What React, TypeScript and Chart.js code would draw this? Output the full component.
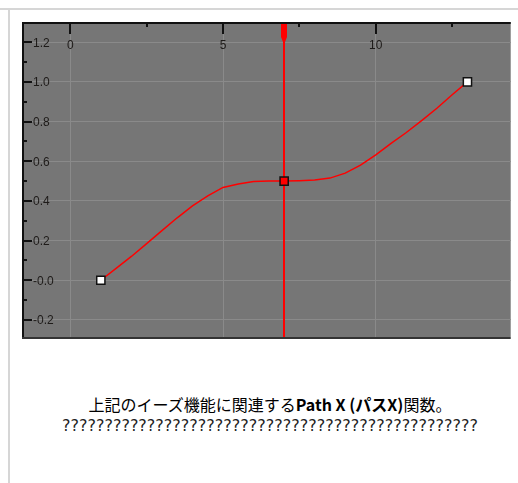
import React, { useEffect, useRef } from "react";
import { Chart, registerables } from "chart.js";

Chart.register(...registerables);

// ---- data ----
const curveX = [1, 1.5, 2, 2.5, 3, 3.5, 4, 4.5, 5, 5.5, 6, 6.5, 7, 7.5, 8, 8.5, 9, 9.5, 10, 10.5, 11, 11.5, 12, 12.5, 13];
const curveY = [0, 0.06, 0.12, 0.185, 0.25, 0.315, 0.375, 0.425, 0.468, 0.485, 0.498, 0.5, 0.5, 0.502, 0.505, 0.515, 0.54, 0.58, 0.632, 0.69, 0.745, 0.805, 0.867, 0.935, 1.0];
const keyX = [1, 7, 13];
const keyY = [0, 0.5, 1.0];
const keyFill = ["#ffffff", "#ff0000", "#ffffff"];
const cursorX = 7;

const xTickValues = [0, 5, 10];
const xTickLabels = ["0", "5", "10"];
const xMinorTicks = [2.5, 7.5, 12.5];
const yTickValues = [1.2, 1.0, 0.8, 0.6, 0.4, 0.2, 0.0, -0.2];
const yTickLabels = ["1.2", "1.0", "0.8", "0.6", "0.4", "0.2", "-0.0", "-0.2"];
const yMinorTicks = [1.1, 0.9, 0.7, 0.5, 0.3, 0.1, -0.1];

const xRange = [-1.58, 14.416];
const yRange = [-0.286, 1.302];

const caption1a = "上記のイーズ機能に関連する";
const caption1b = "Path X (パスX)";
const caption1c = "関数。";
const caption2 = "?".repeat(49);

const plotPlugin = {
  id: "plotDecor",
  beforeDraw(chart: any) {
    const { ctx, chartArea: a } = chart;
    ctx.save();
    ctx.fillStyle = "#767676";
    ctx.fillRect(a.left, a.top, a.right - a.left, a.bottom - a.top);
    ctx.restore();
  },
  beforeDatasetsDraw(chart: any) {
    const { ctx, chartArea: a } = chart;
    const xs = chart.scales.x;
    const px = Math.round(xs.getPixelForValue(cursorX));
    ctx.save();
    ctx.fillStyle = "#ff0000";
    ctx.fillRect(px - 1, a.top, 2, a.bottom - a.top);
    ctx.beginPath();
    ctx.moveTo(px - 3, a.top);
    ctx.lineTo(px + 3, a.top);
    ctx.lineTo(px + 3, a.top + 15);
    ctx.lineTo(px + 1, a.top + 20);
    ctx.lineTo(px - 1, a.top + 20);
    ctx.lineTo(px - 3, a.top + 15);
    ctx.closePath();
    ctx.fill();
    ctx.restore();
  },
  afterDraw(chart: any) {
    const { ctx, chartArea: a } = chart;
    const xs = chart.scales.x;
    const ys = chart.scales.y;
    ctx.save();
    // axes lines
    ctx.fillStyle = "#111111";
    ctx.fillRect(a.left, a.top, a.right - a.left, 2);
    ctx.fillRect(a.left, a.top, 2, a.bottom - a.top);
    ctx.fillStyle = "#333333";
    ctx.fillRect(a.left, a.bottom, a.right - a.left, 2);
    // x ticks
    ctx.fillStyle = "#111111";
    xTickValues.forEach((v) => {
      const p = Math.round(xs.getPixelForValue(v));
      ctx.fillRect(p - 1, a.top, 2, 12);
    });
    xMinorTicks.forEach((v) => {
      const p = Math.round(xs.getPixelForValue(v));
      ctx.fillRect(p - 1, a.top, 2, 5);
    });
    // y ticks
    yTickValues.forEach((v) => {
      const p = Math.round(ys.getPixelForValue(v));
      ctx.fillRect(a.left, p - 1, 10, 2);
    });
    yMinorTicks.forEach((v) => {
      const p = Math.round(ys.getPixelForValue(v));
      ctx.fillRect(a.left, p - 1, 5, 2);
    });
    // labels
    ctx.fillStyle = "#1e1b19";
    ctx.font = "12px Arial, 'Liberation Sans', sans-serif";
    ctx.textBaseline = "middle";
    ctx.textAlign = "center";
    xTickValues.forEach((v, i) => {
      const p = xs.getPixelForValue(v);
      ctx.fillText(xTickLabels[i], p, a.top + 24);
    });
    ctx.textAlign = "left";
    yTickValues.forEach((v, i) => {
      const p = ys.getPixelForValue(v);
      ctx.fillText(yTickLabels[i], a.left + 11, p + 1);
    });
    ctx.restore();
  },
};

export default function App() {
  const ref = useRef<HTMLCanvasElement>(null);
  useEffect(() => {
    if (!ref.current) return;
    const chart = new Chart(ref.current, {
      type: "scatter",
      data: {
        datasets: [
          {
            type: "line",
            data: curveX.map((x, i) => ({ x, y: curveY[i] })),
            borderColor: "#ff0000",
            borderWidth: 1.5,
            pointRadius: 0,
            tension: 0,
            fill: false,
            order: 2,
          } as any,
          {
            data: keyX.map((x, i) => ({ x, y: keyY[i] })),
            pointStyle: "rect",
            pointRadius: 5.8,
            pointBackgroundColor: keyFill,
            pointBorderColor: "#111111",
            pointBorderWidth: 1.5,
            order: 1,
          } as any,
        ],
      },
      options: {
        animation: false,
        responsive: false,
        devicePixelRatio: 1,
        layout: { padding: { left: 22, top: 22, right: 7, bottom: 8 } },
        plugins: { legend: { display: false }, tooltip: { enabled: false } },
        events: [],
        scales: {
          x: {
            type: "linear",
            position: "top",
            min: xRange[0],
            max: xRange[1],
            ticks: { display: false, stepSize: 5, includeBounds: false },
            grid: { color: "#8a8a8a", lineWidth: 1, drawTicks: false },
            border: { display: false },
            afterFit: (s: any) => { s.height = 0; },
          },
          y: {
            type: "linear",
            min: yRange[0],
            max: yRange[1],
            ticks: { display: false, stepSize: 0.2, includeBounds: false },
            grid: { color: "#8a8a8a", lineWidth: 1, drawTicks: false },
            border: { display: false },
            afterFit: (s: any) => { s.width = 0; },
          },
        },
      },
      plugins: [plotPlugin],
    });
    return () => chart.destroy();
  }, []);

  return (
    <div>
      <div style={{ position: "absolute", left: 0, top: 8, width: 518, height: 2, background: "#d6d6d6" }} />
      <div style={{ position: "absolute", left: 8, top: 10, width: 2, height: 473, background: "#d6d6d6" }} />
      <canvas ref={ref} width={518} height={345} style={{ position: "absolute", left: 0, top: 0, width: 518, height: 345 }} />
      <div
        style={{
          position: "absolute",
          left: 30,
          top: 394,
          width: 480,
          textAlign: "center",
          fontFamily: "'Noto Sans CJK JP', sans-serif",
          fontSize: 16,
          lineHeight: "21px",
          color: "#000",
          whiteSpace: "nowrap",
        }}
      >
        <div>
          {caption1a}
          <b>{caption1b}</b>
          {caption1c}
        </div>
        <div style={{ fontFamily: "'DejaVu Sans', sans-serif", fontSize: 16, color: "#222" }}>{caption2}</div>
      </div>
    </div>
  );
}
